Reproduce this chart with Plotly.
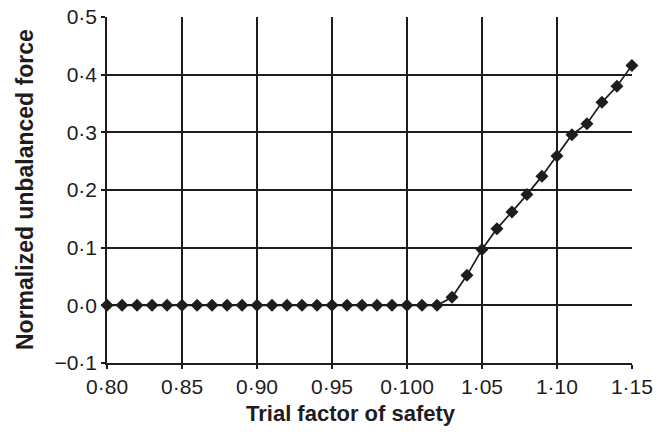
import plotly.graph_objects as go

factor_of_safety = [0.80, 0.81, 0.82, 0.83, 0.84, 0.85, 0.86, 0.87, 0.88, 0.89,
                    0.90, 0.91, 0.92, 0.93, 0.94, 0.95, 0.96, 0.97, 0.98, 0.99,
                    1.00, 1.01, 1.02, 1.03, 1.04, 1.05, 1.06, 1.07, 1.08, 1.09,
                    1.10, 1.11, 1.12, 1.13, 1.14, 1.15]
unbalanced_force = [0, 0, 0, 0, 0, 0, 0, 0, 0, 0,
                    0, 0, 0, 0, 0, 0, 0, 0, 0, 0,
                    0, 0, 0, 0.014, 0.052, 0.097, 0.133, 0.162, 0.192, 0.224,
                    0.259, 0.296, 0.315, 0.352, 0.380, 0.416]

x_tickvals = [0.80, 0.85, 0.90, 0.95, 1.00, 1.05, 1.10, 1.15]
x_ticktext = ["0·80", "0·85", "0·90", "0·95", "0·100", "1·05", "1·10", "1·15"]
y_tickvals = [-0.1, 0.0, 0.1, 0.2, 0.3, 0.4, 0.5]
y_ticktext = ["\u22120·1", "0·0", "0·1", "0·2", "0·3", "0·4", "0·5"]

x_title = "Trial factor of safety"
y_title = "Normalized unbalanced force"

INK = "#1e1c1d"
FONT = "Liberation Sans, Arial, sans-serif"

fig = go.Figure()
fig.add_trace(go.Scatter(
    x=factor_of_safety, y=unbalanced_force, mode="lines+markers",
    line=dict(color=INK, width=1.7),
    marker=dict(symbol="diamond", size=10, color=INK),
    showlegend=False, cliponaxis=False,
))

axis_common = dict(
    showgrid=True, gridcolor=INK, gridwidth=1.6,
    showline=True, linecolor=INK, linewidth=1.6,
    ticks="outside", ticklen=4, tickcolor=INK, tickwidth=1.6,
    zeroline=False, mirror=False, automargin=False,
    tickfont=dict(family=FONT, size=21, color=INK),
)

fig.update_xaxes(range=[0.79995, 1.15005], tickmode="array",
                 tickvals=x_tickvals, ticktext=x_ticktext, **axis_common)
fig.update_yaxes(range=[-0.10002, 0.50002], tickmode="array",
                 tickvals=y_tickvals, ticktext=y_ticktext, **axis_common)

fig.add_annotation(text="<b>" + x_title + "</b>", xref="paper", yref="paper",
                   x=(351 - 107) / 525, y=0, yshift=-50, xanchor="center",
                   yanchor="middle", showarrow=False,
                   font=dict(family=FONT, size=22, color=INK))
fig.add_annotation(text="<b>" + y_title + "</b>", xref="paper", yref="paper",
                   x=0, y=0.5, xshift=-82, xanchor="center", yanchor="middle",
                   textangle=-90, showarrow=False,
                   font=dict(family=FONT, size=23, color=INK))

fig.update_layout(
    template="none",
    width=672, height=436,
    margin=dict(l=107, r=40, t=16.5, b=72.5),
    paper_bgcolor="white", plot_bgcolor="white",
)

fig.write_html("out.html", config={"displayModeBar": False},
               post_script="document.body.style.margin='0px';")
